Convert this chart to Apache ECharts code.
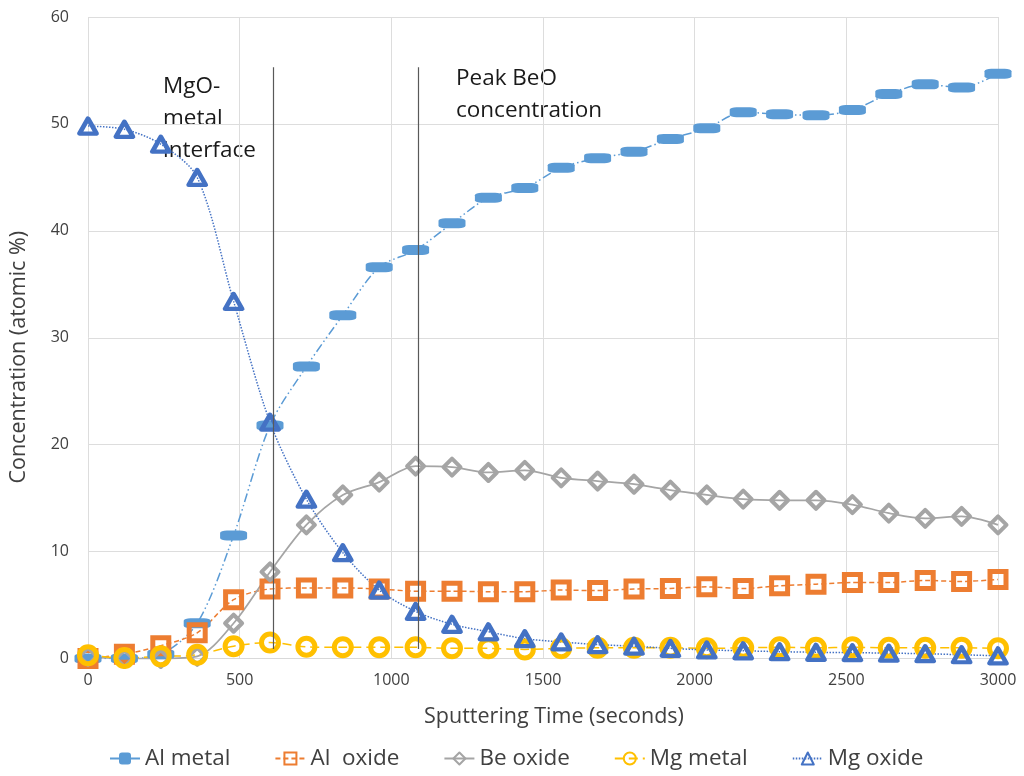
<!DOCTYPE html>
<html>
<head>
<meta charset="utf-8">
<script src="https://cdn.jsdelivr.net/npm/echarts@6/dist/echarts.min.js"></script>
<style>
  html, body { margin: 0; padding: 0; background: #ffffff; }
  #chart { width: 1024px; height: 776px; }
</style>
</head>
<body>
<div id="chart"></div>
<script>
// Depth profile: sputtering time (s) vs. concentration (atomic %)
const times = [0, 120, 240, 360, 480, 600, 720, 840, 960, 1080, 1200, 1320, 1440,
               1560, 1680, 1800, 1920, 2040, 2160, 2280, 2400, 2520, 2640, 2760, 2880, 3000];

const alMetal = [0.0, 0.0, 0.4, 3.3, 11.5, 21.8, 27.3, 32.1, 36.6, 38.2, 40.7, 43.1, 44.0,
                 45.9, 46.8, 47.4, 48.6, 49.6, 51.1, 50.9, 50.8, 51.3, 52.8, 53.7, 53.4, 54.7];

const alOxide = [0.0, 0.4, 1.2, 2.4, 5.5, 6.5, 6.6, 6.6, 6.5, 6.3, 6.3, 6.25, 6.25,
                 6.4, 6.35, 6.5, 6.55, 6.7, 6.55, 6.8, 6.95, 7.1, 7.1, 7.3, 7.2, 7.4];

const beOxide = [0.2, 0.0, 0.0, 0.2, 3.3, 8.1, 12.5, 15.3, 16.5, 18.0, 17.9, 17.4, 17.6,
                 16.9, 16.6, 16.3, 15.75, 15.3, 14.9, 14.8, 14.8, 14.4, 13.6, 13.1, 13.3, 12.5];

const mgMetal = [0.3, 0.05, 0.2, 0.35, 1.15, 1.5, 1.1, 1.05, 1.05, 1.05, 0.95, 0.95, 0.85,
                 0.95, 1.0, 1.0, 1.0, 0.95, 1.0, 1.05, 1.0, 1.05, 1.0, 1.0, 1.0, 0.95];

const mgOxide = [49.8, 49.5, 48.1, 45.0, 33.4, 22.1, 14.9, 9.9, 6.4, 4.4, 3.2, 2.5, 1.85,
                 1.55, 1.3, 1.15, 0.95, 0.8, 0.72, 0.64, 0.58, 0.55, 0.5, 0.45, 0.35, 0.25];

const seriesNames = ['Al metal', 'Al  oxide', 'Be oxide', 'Mg metal', 'Mg oxide'];

// Reference markers: MgO-metal interface and peak BeO concentration
const markerTimes = [610, 1090];
const markerSpan = [0.9, 55.3];

const xTicks = { min: 0, max: 3000, step: 500 };
const yTicks = { min: 0, max: 60, step: 10 };

const FONT = '"Open Sans", "Noto Sans", sans-serif';
const pairs = arr => times.map((t, i) => [t, arr[i]]);

const chart = echarts.init(document.getElementById('chart'), null, { renderer: 'canvas' });

const lineBase = { type: 'line', smooth: 0.3, showSymbol: true, z: 2 };

chart.setOption({
  backgroundColor: '#ffffff',
  animation: false,
  textStyle: { fontFamily: FONT },
  grid: { left: 87, right: 26, top: 17, bottom: 117.5, containLabel: false },
  xAxis: {
    type: 'value',
    min: xTicks.min, max: xTicks.max, interval: xTicks.step,
    name: 'Sputtering Time (seconds)',
    nameLocation: 'middle',
    nameGap: 47,
    nameTextStyle: { fontSize: 21.5, color: '#404040', fontFamily: FONT, padding: [0, 0, 0, 22] },
    axisLine: { show: true, lineStyle: { color: '#D9D9D9', width: 1 } },
    axisTick: { show: false },
    axisLabel: { fontSize: 16, color: '#404040', margin: 14, fontFamily: FONT,
                 formatter: v => String(v) },
    splitLine: { show: true, lineStyle: { color: '#DDDDDD', width: 1 } }
  },
  yAxis: {
    type: 'value',
    min: yTicks.min, max: yTicks.max, interval: yTicks.step,
    name: 'Concentration (atomic %)',
    nameLocation: 'middle',
    nameGap: 58,
    nameTextStyle: { fontSize: 21.5, color: '#404040', fontFamily: FONT, padding: [0, 39, 0, 0] },
    axisLine: { show: false },
    axisTick: { show: false },
    axisLabel: { fontSize: 16, color: '#404040', margin: 19, fontFamily: FONT },
    splitLine: { show: true, lineStyle: { color: '#DDDDDD', width: 1 } }
  },
  legend: {
    top: 742,
    left: 104,
    itemWidth: 30,
    itemHeight: 15,
    itemGap: 44,
    textStyle: { fontSize: 22.5, color: '#404040', fontFamily: FONT },
    data: seriesNames
  },
  graphic: [
    {
      type: 'text', left: 163, top: 71,
      style: { text: 'MgO-\nmetal\ninterface', fontSize: 22.5, lineHeight: 32, fill: '#1a1a1a', fontFamily: FONT }
    },
    {
      type: 'text', left: 456, top: 63,
      style: { text: 'Peak BeO\nconcentration', fontSize: 22.5, lineHeight: 32, fill: '#1a1a1a', fontFamily: FONT }
    }
  ],
  series: [
    Object.assign({}, lineBase, {
      name: seriesNames[0],
      data: pairs(alMetal),
      symbol: 'roundRect',
      symbolSize: [27, 10],
      lineStyle: { color: '#5B9BD5', width: 1.5, type: [9, 3, 1.5, 3, 1.5, 3] },
      itemStyle: { color: '#5B9BD5', borderWidth: 0 }
    }),
    Object.assign({}, lineBase, {
      name: seriesNames[1],
      data: pairs(alOxide),
      symbol: 'rect',
      symbolSize: 16,
      lineStyle: { color: '#ED7D31', width: 1.5, type: [5, 3] },
      itemStyle: { color: 'rgba(255,255,255,0)', borderColor: '#ED7D31', borderWidth: 5 }
    }),
    Object.assign({}, lineBase, {
      name: seriesNames[2],
      data: pairs(beOxide),
      symbol: 'diamond',
      symbolSize: 17,
      lineStyle: { color: '#A5A5A5', width: 1.75, type: 'solid' },
      itemStyle: { color: 'rgba(255,255,255,0)', borderColor: '#A5A5A5', borderWidth: 4, borderJoin: 'round' }
    }),
    Object.assign({}, lineBase, {
      name: seriesNames[3],
      data: pairs(mgMetal),
      symbol: 'circle',
      symbolSize: 17,
      lineStyle: { color: '#FFC000', width: 1.5, type: [9, 5] },
      itemStyle: { color: 'rgba(255,255,255,0)', borderColor: '#FFC000', borderWidth: 5 }
    }),
    Object.assign({}, lineBase, {
      name: seriesNames[4],
      data: pairs(mgOxide),
      symbol: 'triangle',
      symbolSize: [17, 15],
      lineStyle: { color: '#4472C4', width: 1.5, type: [1.5, 1.5] },
      itemStyle: { color: 'rgba(255,255,255,0)', borderColor: '#4472C4', borderWidth: 4.5, borderJoin: 'round' }
    }),
    {
      type: 'line',
      name: 'markers',
      data: [],
      silent: true,
      z: 5,
      markLine: {
        silent: true,
        symbol: 'none',
        label: { show: false },
        lineStyle: { color: '#595959', width: 1.2, type: 'solid' },
        data: markerTimes.map(t => [{ coord: [t, markerSpan[0]] }, { coord: [t, markerSpan[1]] }])
      }
    }
  ]
});
</script>
</body>
</html>
